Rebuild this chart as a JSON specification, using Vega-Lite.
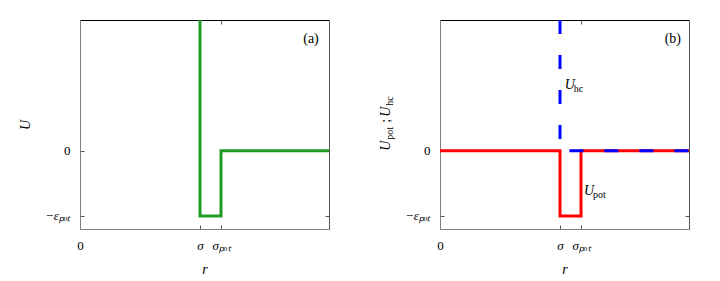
{
  "$schema": "https://vega.github.io/schema/vega-lite/v6.json",
  "background": "white",
  "padding": {"left": 18, "top": 14, "right": 10, "bottom": 5},
  "spacing": 44,
  "config": {
    "view": {"stroke": null},
    "font": "Liberation Serif",
    "axis": {"grid": false, "labelFont": "Liberation Serif", "titleFont": "Liberation Serif", "labelColor": "black", "titleColor": "black", "labelFontSize": 13, "titleFontSize": 14, "titleFontWeight": "normal", "tickColor": "#555", "domainColor": "#808080", "labelFlush": false}
  },
  "datasets": {
    "green": [{"i": 0, "x": 1, "y": 2.0}, {"i": 1, "x": 1, "y": -1}, {"i": 2, "x": 1.175, "y": -1}, {"i": 3, "x": 1.175, "y": 0}, {"i": 4, "x": 2.075, "y": 0}],
    "red": [{"i": 0, "x": 0, "y": 0}, {"i": 1, "x": 1, "y": 0}, {"i": 2, "x": 1, "y": -1}, {"i": 3, "x": 1.175, "y": -1}, {"i": 4, "x": 1.175, "y": 0}, {"i": 5, "x": 2.075, "y": 0}],
    "blue": [{"i": 0, "x": 1, "y": 2.0}, {"i": 1, "x": 1, "y": 0}, {"i": 2, "x": 2.075, "y": 0}]
  },
  "hconcat": [
    {
      "width": 249,
      "height": 209,
      "resolve": {"axis": {"x": "independent", "y": "independent"}},
      "layer": [
        {
          "data": {"name": "green"},
          "mark": {"type": "line", "color": "#229922", "strokeWidth": 3, "strokeCap": "butt", "strokeJoin": "miter"},
          "encoding": {
            "order": {"field": "i", "type": "quantitative"},
            "x": {"field": "x", "type": "quantitative", "scale": {"domain": [0, 2.075], "nice": false, "zero": false},
              "axis": {"orient": "bottom", "values": [0, 1, 1.175], "labelExpr": "datum.value == 0 ? '0' : (datum.value == 1 ? 'σ' : 'σₚₒₜ')", "labelFontStyle": {"condition": {"test": "datum.value == 0", "value": "normal"}, "value": "italic"}, "tickSize": -4, "labelPadding": 14, "title": "r", "titleFontStyle": "italic", "titlePadding": 10}},
            "y": {"field": "y", "type": "quantitative", "scale": {"domain": [-1.2, 2.0], "nice": false, "zero": false},
              "axis": {"orient": "left", "values": [0, -1], "labelExpr": "datum.value == 0 ? '0' : '−εₚₒₜ'", "labelFontStyle": {"condition": {"test": "datum.value == 0", "value": "normal"}, "value": "italic"}, "tickSize": -4, "labelPadding": 14, "title": "U", "titleFontStyle": "italic", "titlePadding": 12}}
          }
        },
        {
          "data": {"values": [{"x": 1.925, "y": 1.71, "t": "(a)"}]},
          "mark": {"type": "text", "fontSize": 14, "align": "center", "baseline": "middle", "font": "Liberation Serif"},
          "encoding": {
            "text": {"field": "t"},
            "x": {"field": "x", "type": "quantitative", "axis": {"orient": "top", "values": [1, 1.175], "labels": false, "tickSize": -4, "domainColor": "black", "title": null}},
            "y": {"field": "y", "type": "quantitative", "axis": {"orient": "right", "values": [0, -1], "labels": false, "tickSize": -4, "domainColor": "#555", "title": null}}
          }
        }
      ]
    },
    {
      "width": 249,
      "height": 209,
      "resolve": {"axis": {"x": "independent", "y": "independent"}},
      "layer": [
        {
          "data": {"name": "red"},
          "mark": {"type": "line", "color": "#ff0000", "strokeWidth": 3, "strokeCap": "butt", "strokeJoin": "miter"},
          "encoding": {
            "order": {"field": "i", "type": "quantitative"},
            "x": {"field": "x", "type": "quantitative", "scale": {"domain": [0, 2.075], "nice": false, "zero": false},
              "axis": {"orient": "bottom", "values": [0, 1, 1.175], "labelExpr": "datum.value == 0 ? '0' : (datum.value == 1 ? 'σ' : 'σₚₒₜ')", "labelFontStyle": {"condition": {"test": "datum.value == 0", "value": "normal"}, "value": "italic"}, "tickSize": -4, "labelPadding": 14, "title": "r", "titleFontStyle": "italic", "titlePadding": 10}},
            "y": {"field": "y", "type": "quantitative", "scale": {"domain": [-1.2, 2.0], "nice": false, "zero": false},
              "axis": {"orient": "left", "values": [0, -1], "labelExpr": "datum.value == 0 ? '0' : '−εₚₒₜ'", "labelFontStyle": {"condition": {"test": "datum.value == 0", "value": "normal"}, "value": "italic"}, "tickSize": -4, "labelPadding": 14, "title": null}}
          }
        },
        {
          "data": {"name": "blue"},
          "mark": {"type": "line", "color": "#0000ff", "strokeWidth": 3, "strokeCap": "butt", "strokeJoin": "miter", "strokeDash": [14, 21]},
          "encoding": {
            "order": {"field": "i", "type": "quantitative"},
            "x": {"field": "x", "type": "quantitative", "axis": {"orient": "top", "values": [1, 1.175], "labels": false, "tickSize": -4, "domainColor": "black", "title": null}},
            "y": {"field": "y", "type": "quantitative", "axis": {"orient": "right", "values": [0, -1], "labels": false, "tickSize": -4, "domainColor": "#555", "title": null}}
          }
        },
        {
          "data": {"values": [{"x": 1.94, "y": 1.71, "t": "(b)"}]},
          "mark": {"type": "text", "fontSize": 14, "align": "center", "baseline": "middle"},
          "encoding": {"text": {"field": "t"}, "x": {"field": "x", "type": "quantitative", "axis": null}, "y": {"field": "y", "type": "quantitative", "axis": null}}
        },
        {
          "data": {"values": [{"x": 1.04, "y": 1.0, "t": "U"}, {"x": 1.2, "y": -0.62, "t": "U"}]},
          "mark": {"type": "text", "fontSize": 14, "fontStyle": "italic", "align": "left", "baseline": "middle"},
          "encoding": {"text": {"field": "t"}, "x": {"field": "x", "type": "quantitative", "axis": null}, "y": {"field": "y", "type": "quantitative", "axis": null}}
        },
        {
          "data": {"values": [{"x": 1.04, "y": 1.0, "t": "hc"}, {"x": 1.2, "y": -0.62, "t": "pot"}]},
          "mark": {"type": "text", "fontSize": 10, "align": "left", "baseline": "middle", "dx": 9, "dy": 4},
          "encoding": {"text": {"field": "t"}, "x": {"field": "x", "type": "quantitative", "axis": null}, "y": {"field": "y", "type": "quantitative", "axis": null}}
        },
        {
          "data": {"values": [{"x": -0.45, "y": 0, "t": "U"}]},
          "mark": {"type": "text", "fontSize": 14, "fontStyle": "italic", "align": "left", "baseline": "middle", "angle": 270, "dx": 0},
          "encoding": {"text": {"field": "t"}, "x": {"field": "x", "type": "quantitative", "axis": null}, "y": {"field": "y", "type": "quantitative", "axis": null}}
        },
        {
          "data": {"values": [{"x": -0.45, "y": 0, "t": "pot"}]},
          "mark": {"type": "text", "fontSize": 10, "align": "left", "baseline": "middle", "angle": 270, "dx": 11, "dy": 4},
          "encoding": {"text": {"field": "t"}, "x": {"field": "x", "type": "quantitative", "axis": null}, "y": {"field": "y", "type": "quantitative", "axis": null}}
        },
        {
          "data": {"values": [{"x": -0.45, "y": 0, "t": ";"}]},
          "mark": {"type": "text", "fontSize": 14, "align": "left", "baseline": "middle", "angle": 270, "dx": 28},
          "encoding": {"text": {"field": "t"}, "x": {"field": "x", "type": "quantitative", "axis": null}, "y": {"field": "y", "type": "quantitative", "axis": null}}
        },
        {
          "data": {"values": [{"x": -0.45, "y": 0, "t": "U"}]},
          "mark": {"type": "text", "fontSize": 14, "fontStyle": "italic", "align": "left", "baseline": "middle", "angle": 270, "dx": 34},
          "encoding": {"text": {"field": "t"}, "x": {"field": "x", "type": "quantitative", "axis": null}, "y": {"field": "y", "type": "quantitative", "axis": null}}
        },
        {
          "data": {"values": [{"x": -0.45, "y": 0, "t": "hc"}]},
          "mark": {"type": "text", "fontSize": 10, "align": "left", "baseline": "middle", "angle": 270, "dx": 45, "dy": 4},
          "encoding": {"text": {"field": "t"}, "x": {"field": "x", "type": "quantitative", "axis": null}, "y": {"field": "y", "type": "quantitative", "axis": null}}
        }
      ]
    }
  ]
}
